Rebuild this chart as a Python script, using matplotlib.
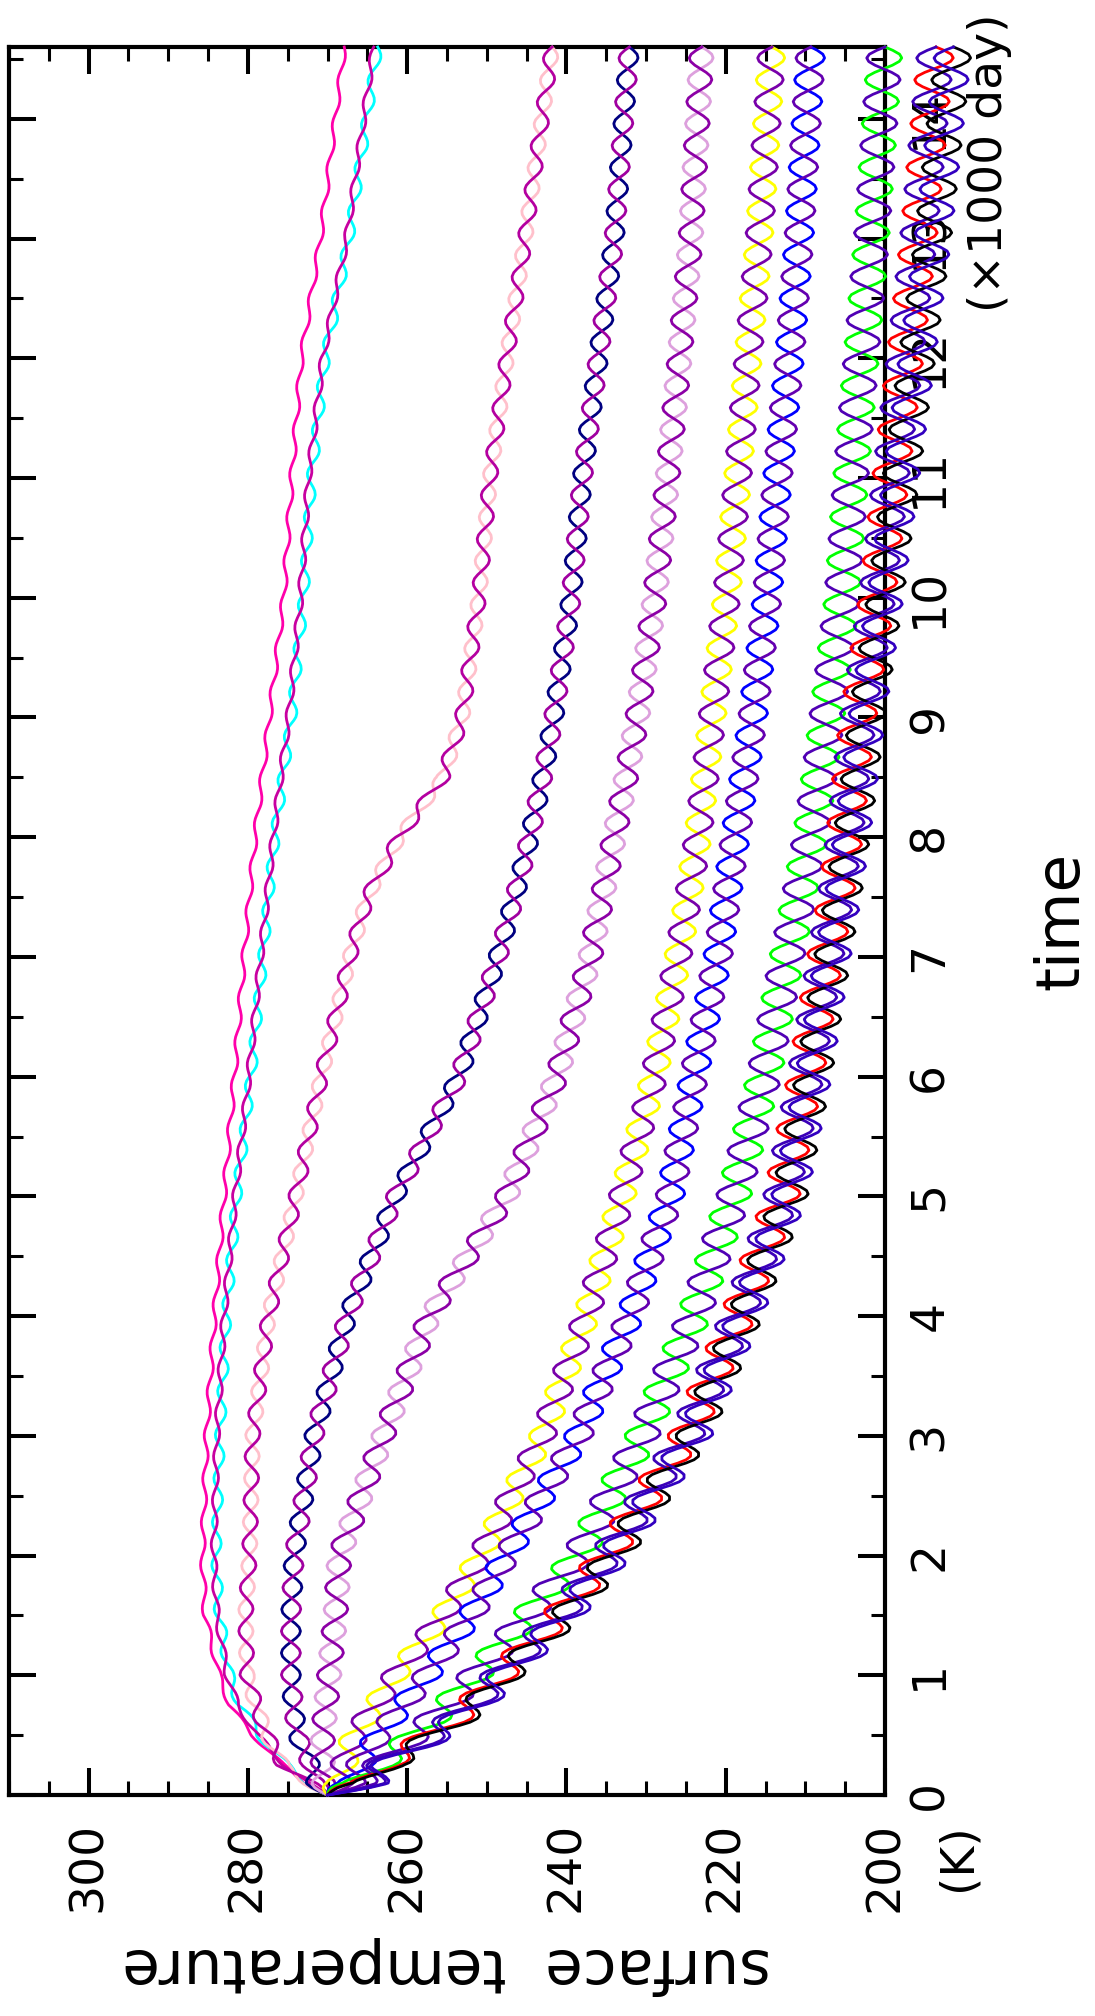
import matplotlib
matplotlib.use('Agg')
import matplotlib.pyplot as plt
import numpy as np
from matplotlib.ticker import MultipleLocator

t_knots = [0, 0.1, 0.25, 0.5, 0.75, 1, 1.5, 2, 3, 4, 5, 6, 7, 7.5, 8, 8.5, 9, 10, 11, 12, 13, 14.6]

# mean surface temperature (K) of each run at t_knots
trend_hot    = [270, 272.7, 275.6, 279.4, 282.3, 283.6, 285.4, 285.7, 285.2, 284.2, 283.0, 281.7, 280.5, 279.8, 279.1, 278.2, 277.3, 275.5, 274.5, 273.3, 270.9, 267.9]
trend_cyan   = [270, 272.5, 275.2, 278.5, 281.0, 282.3, 283.6, 284.0, 283.5, 282.7, 281.4, 279.6, 278.1, 277.4, 276.6, 275.6, 274.5, 273.0, 272.0, 270.3, 267.3, 263.7]
trend_mag    = [270, 272.6, 275.4, 278.8, 281.3, 282.6, 283.9, 284.3, 283.9, 283.0, 281.6, 279.9, 278.4, 277.6, 276.8, 275.9, 274.9, 273.4, 272.4, 270.6, 267.6, 264.2]
trend_pink   = [270, 272.3, 275.6, 277.6, 279.0, 280.1, 280.3, 279.8, 279.4, 277.4, 274.0, 270.8, 267.2, 265.0, 261.0, 255.5, 253.1, 251.0, 249.6, 247.5, 245.2, 241.8]
trend_navy   = [270, 271.5, 272.1, 273.8, 274.3, 274.6, 274.6, 274.2, 271.7, 267.5, 261.5, 253.5, 248.6, 246.5, 244.6, 243.0, 241.6, 239.4, 238.0, 236.0, 234.0, 232.1]
trend_plum   = [270, 270.5, 270.6, 270.6, 270.2, 269.8, 269.0, 268.5, 263.0, 257.2, 247.5, 241.2, 237.0, 235.5, 234.0, 232.5, 231.1, 228.9, 227.3, 225.8, 224.4, 223.0]
trend_yellow = [270, 268.5, 268.0, 266.6, 264.0, 261.5, 255.5, 250.8, 243.0, 237.5, 233.0, 229.0, 226.0, 224.7, 223.5, 222.6, 221.7, 219.9, 218.5, 217.2, 215.8, 214.2]
trend_blue   = [270, 267.0, 266.0, 263.6, 260.5, 257.5, 252.0, 247.5, 238.5, 232.0, 227.0, 224.0, 221.0, 219.9, 218.8, 217.7, 216.6, 214.8, 213.5, 212.0, 210.8, 209.3]
trend_green  = [270, 266.0, 263.6, 259.0, 255.0, 251.5, 244.9, 238.5, 230.5, 224.0, 219.0, 215.2, 212.3, 210.8, 209.4, 208.3, 207.3, 205.4, 204.3, 203.0, 201.7, 200.0]
trend_red    = [270, 265.0, 263.0, 257.0, 252.0, 248.5, 241.0, 235.0, 225.0, 218.5, 213.0, 210.0, 207.5, 206.2, 205.1, 204.3, 203.4, 201.0, 199.3, 197.5, 195.8, 193.6]
trend_black  = [270, 264.6, 262.5, 256.3, 251.2, 247.7, 240.0, 234.0, 224.0, 217.6, 212.0, 209.0, 206.6, 205.3, 204.2, 203.2, 202.3, 200.0, 198.0, 196.0, 194.0, 191.4]

# half of the seasonal swing (K) of each run
amp_hot, amp_cyan, amp_mag, amp_pink = 0.3, 0.6, 0.35, 0.9
amp_navy, amp_plum, amp_yellow, amp_blue = 1.2, 1.5, 1.7, 1.8
amp_green, amp_red, amp_black = 2.2, 2.3, 2.3

# shape of one annual cycle as seen on the curves
season_phase = [0, 1/12, 2/12, 3/12, 4/12, 5/12, 6/12, 7/12, 8/12, 9/12, 10/12, 11/12, 1]
season_shape = [0, 0.5, 0.87, 1, 0.87, 0.5, 0, -0.5, -0.87, -1, -0.87, -0.5, 0]
year = 0.365

# (colour, trend, amplitude, sign of the seasonal swing)
runs = [
    ('#ff00aa', trend_hot, amp_hot, 1),
    ('#00ffff', trend_cyan, amp_cyan, 1),
    ('#c800a0', trend_mag, amp_mag, -1),
    ('#ffc0cb', trend_pink, amp_pink, 1),
    ('#b400a0', trend_pink, amp_pink, -1),
    ('#000080', trend_navy, amp_navy, 1),
    ('#a000a0', trend_navy, amp_navy, -1),
    ('#dda0dd', trend_plum, amp_plum, 1),
    ('#8c00a6', trend_plum, amp_plum, -1),
    ('#ffff00', trend_yellow, amp_yellow, 1),
    ('#7800aa', trend_yellow, amp_yellow, -1),
    ('#0000ff', trend_blue, amp_blue, 1),
    ('#6400b0', trend_blue, amp_blue, -1),
    ('#00ff00', trend_green, amp_green, 1),
    ('#5000b4', trend_green, amp_green, -1),
    ('#ff0000', trend_red, amp_red, 1),
    ('#3c00b8', trend_red, amp_red, -1),
    ('#000000', trend_black, amp_black, 1),
    ('#3200c0', trend_black, amp_black, -1),
]

t = np.arange(0, 14.6 + 1e-9, 0.004)
cycle = np.interp((t / year) % 1, season_phase, season_shape)

W, H = 1095, 2016
fig = plt.figure(figsize=(W / 100, H / 100), dpi=100)
ax = fig.add_axes([9 / W, 1 - 1795 / H, 876 / W, 1748 / H])

for color, trend, amp, sign in runs:
    temp = np.interp(t, t_knots, trend) + sign * amp * cycle
    ax.plot(temp, t, color=color, lw=2.0, clip_on=False, zorder=3)

ax.set_xlim(310, 200)
ax.set_ylim(0, 14.6)
ax.xaxis.set_major_locator(MultipleLocator(20))
ax.xaxis.set_minor_locator(MultipleLocator(5))
ax.yaxis.set_major_locator(MultipleLocator(1))
ax.yaxis.set_minor_locator(MultipleLocator(0.5))
ax.tick_params(which='both', direction='in', top=True, bottom=True, left=True, right=True,
               labelleft=False, labelright=True, labelbottom=True)
ax.tick_params(which='major', length=19.5, width=2.9)
ax.tick_params(which='minor', length=10, width=2.2)
ax.tick_params(axis='x', labelsize=34, pad=19, labelrotation=90)
ax.tick_params(axis='y', labelsize=34, pad=16, labelrotation=90)
for lab in ax.get_yticklabels():
    lab.set_verticalalignment('center')
for s in ax.spines.values():
    s.set_linewidth(3.0)

fig.text(447 / W, 1 - 1965 / H, 'surface  temperature', rotation=180, ha='center', va='center', fontsize=44)
fig.text(1062 / W, 1 - 921 / H, 'time', rotation=90, ha='center', va='center', fontsize=44)
fig.text(958 / W, 1 - 1823 / H, '(K)', rotation=90, ha='center', va='top', fontsize=34)
fig.text(990 / W, 1 - 13 / H, '(×1000 day)', rotation=90, ha='center', va='top', fontsize=34)

fig.savefig('out.png', dpi=100)
